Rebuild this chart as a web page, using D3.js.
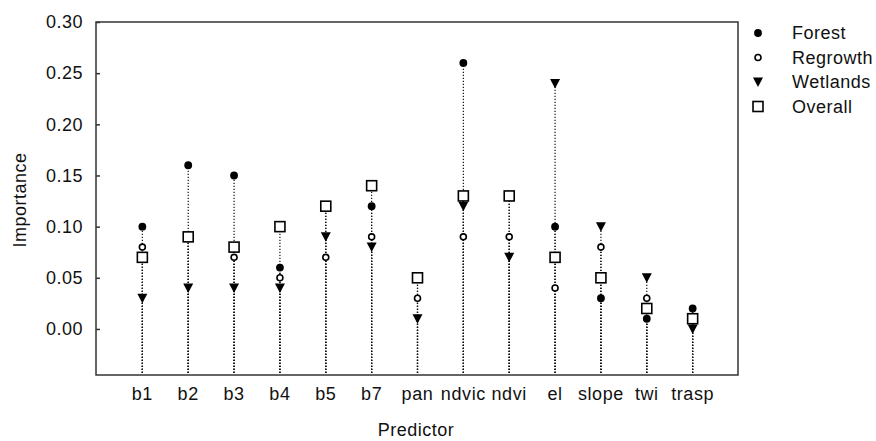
<!DOCTYPE html>
<html>
<head>
<meta charset="utf-8">
<script src="https://cdn.jsdelivr.net/npm/d3@7"></script>
<style>
  body { margin: 0; background: #fff; }
  svg text { font-family: "Liberation Sans", Arial, sans-serif; fill: #111; }
</style>
</head>
<body>
<svg id="chart" width="876" height="441"></svg>
<script>
var predictors = ['b1', 'b2', 'b3', 'b4', 'b5', 'b7', 'pan', 'ndvic', 'ndvi', 'el', 'slope', 'twi', 'trasp'];

var forest   = [0.10, 0.16, 0.15, 0.06, 0.12, 0.12, 0.05, 0.26, 0.13, 0.10, 0.03, 0.01, 0.02];
var regrowth = [0.08, 0.09, 0.07, 0.05, 0.07, 0.09, 0.03, 0.09, 0.09, 0.04, 0.08, 0.03, 0.01];
var wetlands = [0.03, 0.04, 0.04, 0.04, 0.09, 0.08, 0.01, 0.12, 0.07, 0.24, 0.10, 0.05, 0.00];
var overall  = [0.07, 0.09, 0.08, 0.10, 0.12, 0.14, 0.05, 0.13, 0.13, 0.07, 0.05, 0.02, 0.01];

var yTicks = [0.00, 0.05, 0.10, 0.15, 0.20, 0.25, 0.30];

var series = [
  { name: 'Forest', values: forest, shape: 'forest' },
  { name: 'Regrowth', values: regrowth, shape: 'regrowth' },
  { name: 'Wetlands', values: wetlands, shape: 'wetlands' },
  { name: 'Overall', values: overall, shape: 'overall' }
];

var svg = d3.select('#chart');
var plotLeft = 96, plotRight = 738, plotTop = 22, plotBottom = 375;

var x = d3.scalePoint().domain(predictors).range([plotLeft, plotRight]).padding(1);
var y = d3.scaleLinear().domain([-0.045, 0.30]).range([plotBottom, plotTop]);

// drop lines, one per series, drawn from the frame up so the dots line up
series.forEach(function(s) {
  svg.append('g')
    .selectAll('line')
    .data(s.values)
    .enter()
    .append('line')
    .attr('x1', function(d, i) { return x(predictors[i]) + 0.5; })
    .attr('x2', function(d, i) { return x(predictors[i]) + 0.5; })
    .attr('y1', plotBottom - 2)
    .attr('y2', function(d) { return y(d); })
    .attr('stroke', '#111')
    .attr('stroke-width', 1.2)
    .attr('stroke-dasharray', '1.2,1.8');
});

// frame
svg.append('rect')
  .attr('x', plotLeft).attr('y', plotTop)
  .attr('width', plotRight - plotLeft).attr('height', plotBottom - plotTop)
  .attr('fill', 'none').attr('stroke', '#333').attr('stroke-width', 1.5);

var fontFam = '"Liberation Sans", Arial, sans-serif';

// y axis
var yAxis = d3.axisLeft(y).tickValues(yTicks).tickFormat(d3.format('.2f'))
  .tickSizeInner(-4).tickSizeOuter(0).tickPadding(13);
var ga = svg.append('g').attr('transform', 'translate(' + plotLeft + ',0)').call(yAxis);
ga.select('.domain').remove();
ga.selectAll('line').attr('stroke', '#333').attr('stroke-width', 1.5);
ga.selectAll('text').attr('font-size', 18).style('font-family', fontFam)
  .attr('fill', '#111').attr('letter-spacing', 0.5);

// x labels
var xAxis = d3.axisBottom(x).tickSize(0).tickPadding(12);
var gx = svg.append('g').attr('transform', 'translate(0,' + plotBottom + ')').call(xAxis);
gx.select('.domain').remove();
gx.selectAll('text').attr('font-size', 18).style('font-family', fontFam)
  .attr('fill', '#111').attr('letter-spacing', 0.6);

// titles
svg.append('text')
  .attr('x', 416).attr('y', 436)
  .attr('text-anchor', 'middle').attr('font-size', 18).attr('letter-spacing', 0.5)
  .text('Predictor');
svg.append('text')
  .attr('transform', 'translate(26,200) rotate(-90)')
  .attr('text-anchor', 'middle').attr('font-size', 18).attr('letter-spacing', 0.5)
  .text('Importance');

// marker drawing
function drawMarker(g, shape) {
  if (shape === 'forest') {
    g.append('path').attr('d', d3.symbol().type(d3.symbolCircle).size(48)()).attr('fill', '#000');
  } else if (shape === 'regrowth') {
    g.append('path').attr('d', d3.symbol().type(d3.symbolCircle).size(28)())
      .attr('fill', '#fff').attr('stroke', '#000').attr('stroke-width', 1.6);
  } else if (shape === 'wetlands') {
    g.append('path').attr('d', 'M-5,-4.5 L5,-4.5 L0,5 Z').attr('fill', '#000');
  } else {
    g.append('rect').attr('x', -5).attr('y', -5).attr('width', 10).attr('height', 10)
      .attr('fill', '#fff').attr('stroke', '#000').attr('stroke-width', 1.6);
  }
}

// points: Wetlands, Regrowth, Forest, then Overall on top
[2, 1, 0, 3].forEach(function(k) {
  var s = series[k];
  s.values.forEach(function(v, i) {
    var g = svg.append('g')
      .attr('transform', 'translate(' + (x(predictors[i]) + 0.5) + ',' + y(v) + ')');
    drawMarker(g, s.shape);
  });
});

// legend
var legend = svg.append('g');
series.forEach(function(s, i) {
  var ly = 33 + i * 24.5;
  var g = legend.append('g').attr('transform', 'translate(758,' + ly + ')');
  drawMarker(g, s.shape);
  legend.append('text')
    .attr('x', 792).attr('y', ly + 6)
    .attr('font-size', 18).attr('letter-spacing', 0.5)
    .text(s.name);
});
</script>
</body>
</html>
